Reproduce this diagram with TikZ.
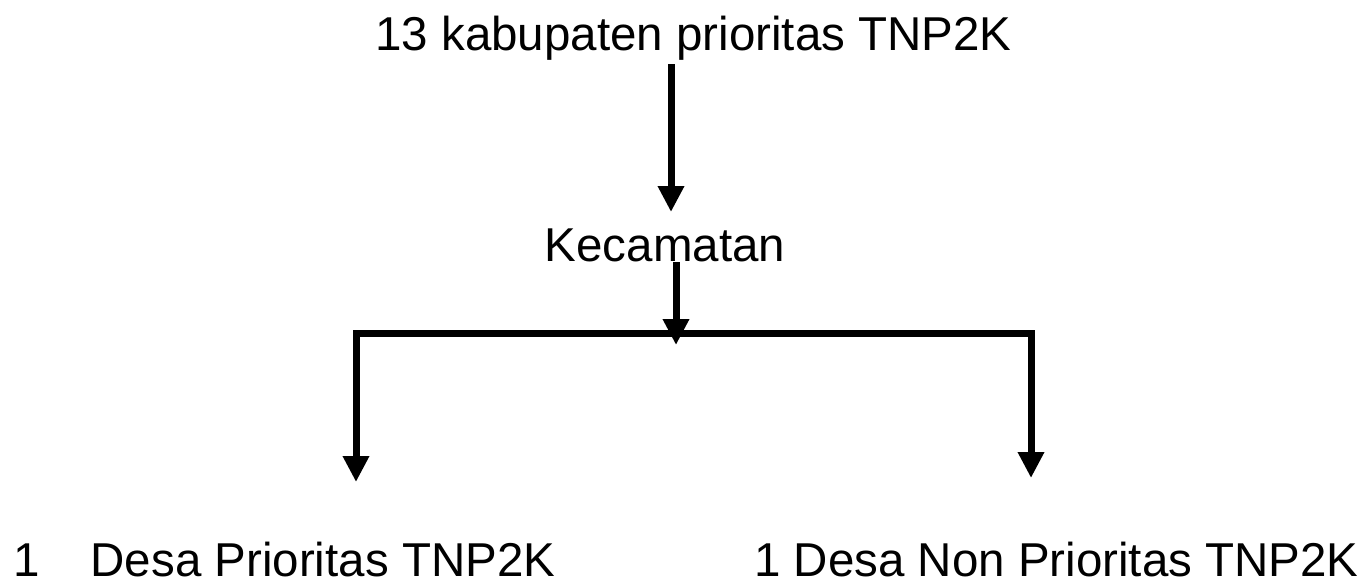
\documentclass[tikz,border=0pt]{standalone}
\usepackage{fontspec}
\setmainfont{Liberation Sans}
\usetikzlibrary{arrows.meta}
\begin{document}
\begin{tikzpicture}[x=1pt,y=-1pt,
  lbl/.style={inner sep=0pt,anchor=base,font=\fontsize{47.5}{57}\selectfont},
  arr/.style={line width=7pt,-{Triangle[width=25pt,length=26pt]}},
  barr/.style={line width=7pt,line join=miter,{Triangle[width=25pt,length=26pt]}-{Triangle[width=25pt,length=26pt]}}]
\useasboundingbox (0,0) rectangle (1364,584);
\node[lbl] (t) at (693.5,50) {13 kabupaten prioritas TNP2K};
\node[lbl] (k) at (665,261) {Kecamatan};
\node[lbl,anchor=base west,text depth=0pt] (l) at (13,576) {1\hspace{51pt}Desa Prioritas TNP2K};
\node[lbl,anchor=base west,text depth=0pt] (r) at (754,576) {1 Desa Non Prioritas TNP2K};
\coordinate (a1s) at (671,64);
\coordinate (a1e) at (671,212);
\coordinate (a2s) at (676,262);
\coordinate (a2e) at (676,345);
\coordinate (bl) at (356,333);
\coordinate (br) at (1031,333);
\coordinate (le) at (356,482);
\coordinate (re) at (1031,478);
\draw[barr] (le) -- (bl) -- (br) -- (re);
\draw[arr] (a1s) -- (a1e);
\draw[arr] (a2s) -- (a2e);
\end{tikzpicture}
\end{document}
